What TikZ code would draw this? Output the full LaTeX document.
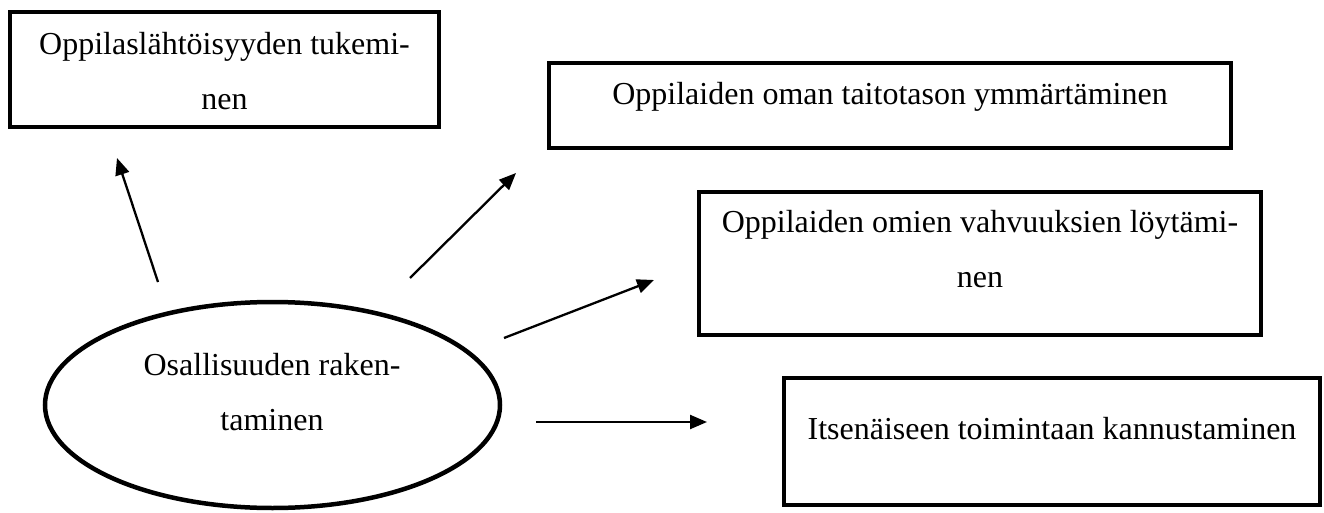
\documentclass[tikz,border=0pt]{standalone}
\usepackage{fontspec}
\setmainfont{Liberation Serif}
\usetikzlibrary{arrows.meta,shapes.geometric}

\begin{document}
\begin{tikzpicture}[x=1pt,y=-1pt,
  topicbox/.style={draw, line width=4.5pt, rectangle, inner sep=0pt},
  hub/.style={draw, line width=4.5pt, ellipse, inner sep=0pt,
    minimum width=455pt, minimum height=206pt},
  caption/.style={anchor=base, align=center, inner sep=0pt,
    font=\fontsize{32pt}{55pt}\selectfont},
  link/.style={line width=2.3pt, -{Triangle[length=17pt,width=14pt]}}]
  \useasboundingbox (0,0) rectangle (1324,513);

  % central ellipse (multi-line captions are placed by their last baseline)
  \node[hub] (hub) at (272.5,405) {};
  \node[caption] (hubtext) at (272,430) {Osallisuuden raken-\\taminen};

  % topic boxes
  \node[topicbox, minimum width=429pt, minimum height=115pt] (b1) at (224.5,69.5) {};
  \node[caption] (t1) at (224.5,110) {Oppilaslähtöisyyden tukemi-\\nen};

  \node[topicbox, minimum width=682pt, minimum height=85pt] (b2) at (890,105.5) {};
  \node[caption] (t2) at (890,105) {Oppilaiden oman taitotason ymmärtäminen};

  \node[topicbox, minimum width=562pt, minimum height=143pt] (b3) at (980,263.5) {};
  \node[caption] (t3) at (980,287) {Oppilaiden omien vahvuuksien löytämi-\\nen};

  \node[topicbox, minimum width=536pt, minimum height=127pt] (b4) at (1052,441.5) {};
  \node[caption] (t4) at (1052,439) {Itsenäiseen toimintaan kannustaminen};

  % free ends of the arrows
  \coordinate (s1) at (158,282);  \coordinate (e1) at (117,158);
  \coordinate (s2) at (410,278);  \coordinate (e2) at (516,173);
  \coordinate (s3) at (504,338);  \coordinate (e3) at (654,280);
  \coordinate (s4) at (536,422);  \coordinate (e4) at (707,422);

  \draw[link] (s1) -- (e1);
  \draw[link] (s2) -- (e2);
  \draw[link] (s3) -- (e3);
  \draw[link] (s4) -- (e4);
\end{tikzpicture}
\end{document}
